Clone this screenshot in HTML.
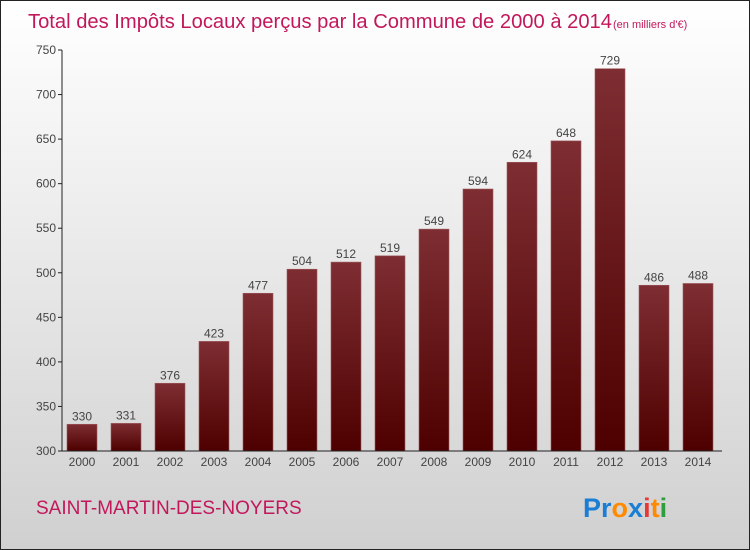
<!DOCTYPE html>
<html><head><meta charset="utf-8"><style>
body{margin:0;}
#wrap{width:750px;height:550px;position:relative;overflow:hidden;}
</style></head><body>
<div id="wrap">
<svg id="svg" width="750" height="550" xmlns="http://www.w3.org/2000/svg" font-family="Liberation Sans, sans-serif">
<defs>
<linearGradient id="bg" x1="0" y1="0" x2="0" y2="1"><stop offset="0" stop-color="#ffffff"/><stop offset="1" stop-color="#d0d0d0"/></linearGradient>
<linearGradient id="bar" x1="0" y1="0" x2="0" y2="1"><stop offset="0" stop-color="#7e2e32"/><stop offset="1" stop-color="#4e0000"/></linearGradient>
</defs>
<rect x="0.5" y="0.5" width="749" height="549" fill="url(#bg)" stroke="#222"/>
<text x="28" y="28" font-size="20" fill="#c2185b" textLength="584" lengthAdjust="spacingAndGlyphs">Total des Impôts Locaux perçus par la Commune de 2000 à 2014</text>
<text x="613" y="28" font-size="11" fill="#c2185b">(en milliers d'€)</text>
<g id="plot"></g>
<text x="36" y="514" font-size="19" fill="#c2185b">SAINT-MARTIN-DES-NOYERS</text>
<text x="583" y="517" font-size="27" font-weight="bold"><tspan fill="#1a7fd4">Pr</tspan><tspan fill="#ff8a00">o</tspan><tspan fill="#1a7fd4">x</tspan><tspan fill="#e53935">i</tspan><tspan fill="#ff8a00">t</tspan><tspan fill="#2e9e3e">i</tspan></text>
</svg>
</div>
<script>
const years=['2000','2001','2002','2003','2004','2005','2006','2007','2008','2009','2010','2011','2012','2013','2014'];
const values=[330,331,376,423,477,504,512,519,549,594,624,648,729,486,488];
const ticks=[300,350,400,450,500,550,600,650,700,750];
const NS='http://www.w3.org/2000/svg';
const g=document.getElementById('plot');
const x0=62,x1=722,yTop=50,yBot=451,vMin=300,vMax=750;
const barStart=60;
const y=v=>yBot-(v-vMin)/(vMax-vMin)*(yBot-yTop);
const step=44;
const xc=i=>barStart+step*(i+0.5);
function mk(t,a,txt){const e=document.createElementNS(NS,t);for(const k in a)e.setAttribute(k,a[k]);if(txt!=null)e.textContent=txt;g.appendChild(e);return e;}
ticks.forEach(t=>{
 let l=mk('line',{x1:x0-4,x2:x0,y1:y(t),y2:y(t),stroke:'#222'});
 
 
 let tx=mk('text',{x:x0-6,y:y(t)+4,'text-anchor':'end','font-size':12,fill:'#444'},t);
 
 
});
values.forEach((v,i)=>{
 let r=mk('rect',{x:xc(i)-15,y:y(v),width:30,height:yBot-y(v),fill:'url(#bar)',stroke:'#a05a5e','stroke-width':0.6});
 
 
 let t=mk('text',{x:xc(i),y:y(v)-4,'text-anchor':'middle','font-size':12,fill:'#444'},v);
 
 
 let xl=mk('text',{x:xc(i),y:yBot+15,'text-anchor':'middle','font-size':12,fill:'#444'},years[i]);
 
 
});
let ya=mk('line',{x1:x0,x2:x0,y1:yTop,y2:yBot,stroke:'#222'});


let xa=mk('line',{x1:x0,x2:x1,y1:yBot,y2:yBot,stroke:'#222'});


</script>
</body></html>
